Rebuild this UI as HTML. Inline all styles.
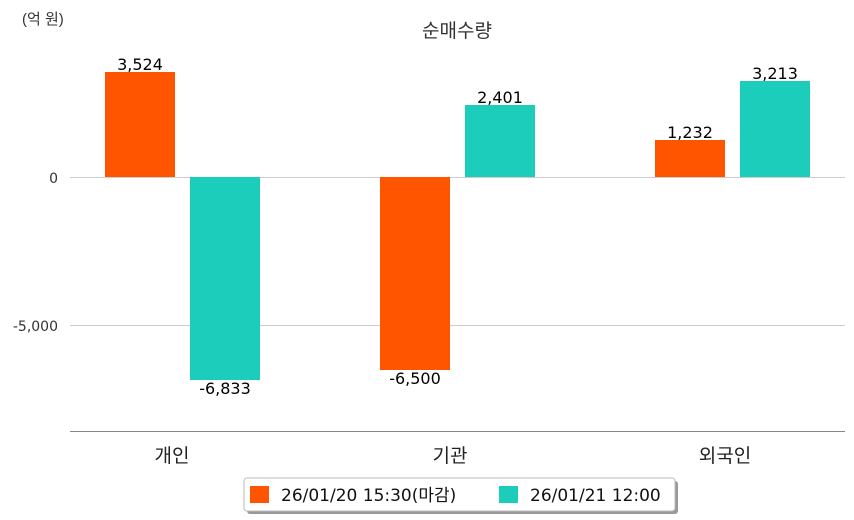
<!DOCTYPE html>
<html><head><meta charset="utf-8"><style>
html,body{margin:0;padding:0;background:#fff;}
svg{display:block;font-family:"DejaVu Sans","Noto Sans CJK KR",sans-serif;}
</style></head><body>
<svg width="854" height="520" viewBox="0 0 854 520" xmlns="http://www.w3.org/2000/svg">
<text x="22" y="24" font-size="15" fill="#333" font-family="Liberation Sans, Noto Sans CJK KR, sans-serif">(억 원)</text>
<text x="457" y="37" font-size="19" fill="#333" text-anchor="middle">순매수량</text>
<line x1="70" y1="177.5" x2="845" y2="177.5" stroke="#ccc" stroke-width="1"/>
<line x1="70" y1="325.5" x2="845" y2="325.5" stroke="#ccc" stroke-width="1"/>
<line x1="70" y1="431.5" x2="845" y2="431.5" stroke="#888" stroke-width="1"/>
<text x="58" y="183" font-size="14" fill="#333" text-anchor="end">0</text>
<text x="58" y="331" font-size="14" fill="#333" text-anchor="end">-5,000</text>
<rect x="105" y="72" width="70" height="105" fill="#ff5400"/>
<rect x="190" y="177" width="70" height="203" fill="#1ccdbb"/>
<rect x="380" y="177" width="70" height="193" fill="#ff5400"/>
<rect x="465" y="105" width="70" height="72" fill="#1ccdbb"/>
<rect x="655" y="140" width="70" height="37" fill="#ff5400"/>
<rect x="740" y="81" width="70" height="96" fill="#1ccdbb"/>
<g font-size="16" fill="#000" text-anchor="middle">
<text x="140" y="70">3,524</text>
<text x="225" y="394">-6,833</text>
<text x="415" y="384">-6,500</text>
<text x="500" y="103">2,401</text>
<text x="690" y="138">1,232</text>
<text x="775" y="79">3,213</text>
</g>
<g font-size="19" fill="#222" text-anchor="middle">
<text x="172" y="462">개인</text>
<text x="450" y="462">기관</text>
<text x="725" y="462">외국인</text>
</g>
<rect x="247" y="481" width="431" height="33" rx="3" fill="#999"/>
<rect x="244" y="478" width="431" height="33" rx="3" fill="#fff" stroke="#bbb"/>
<rect x="250" y="486" width="19" height="17" fill="#ff5400"/>
<text x="281" y="501" font-size="17" fill="#111">26/01/20 15:30(마감)</text>
<rect x="499" y="486" width="19" height="17" fill="#1ccdbb"/>
<text x="530" y="501" font-size="17" fill="#111">26/01/21 12:00</text>
</svg>
</body></html>
